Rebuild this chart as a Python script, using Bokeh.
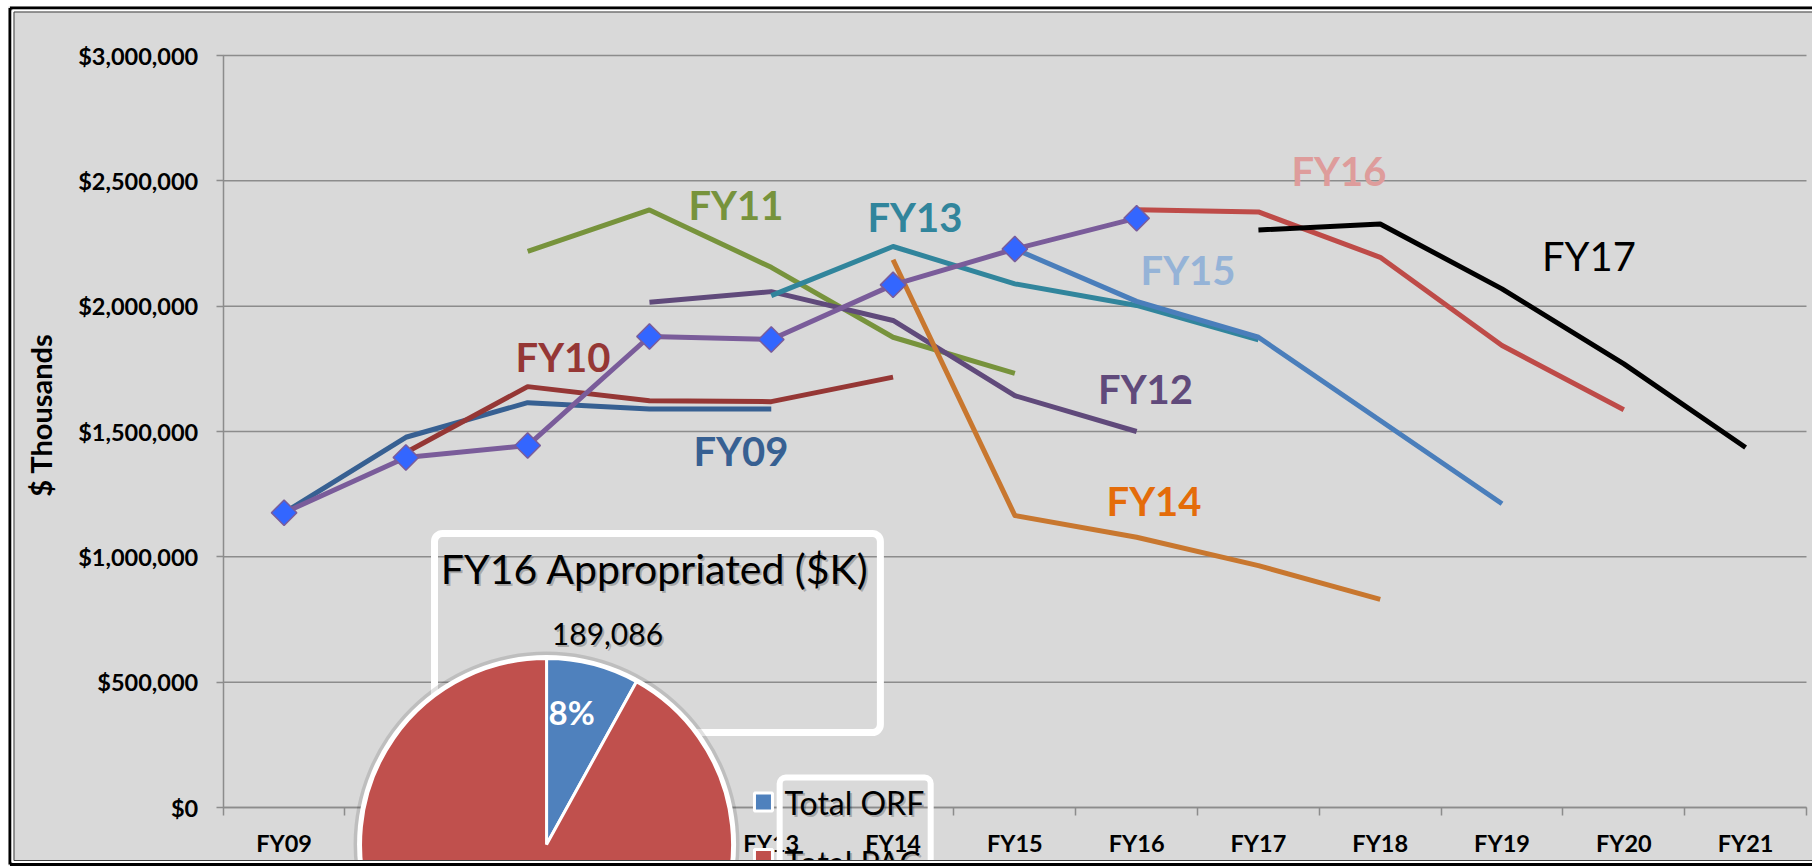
import math
from bokeh.plotting import figure
from bokeh.models import Range1d, FixedTicker, NumeralTickFormatter, BoxAnnotation, ColumnDataSource
from bokeh.core.properties import value
from bokeh.embed import file_html
from bokeh.resources import INLINE

# ---------------- data ----------------
categories = ["FY09", "FY10", "FY11", "FY12", "FY13", "FY14", "FY15",
              "FY16", "FY17", "FY18", "FY19", "FY20", "FY21"]
y_ticks = [0, 500000, 1000000, 1500000, 2000000, 2500000, 3000000]

# each budget-year profile: first fiscal year it covers + its values ($K)
fy09_start, fy09 = "FY09", [1176000, 1477000, 1615000, 1590000, 1590000]
fy10_start, fy10 = "FY10", [1416000, 1679000, 1623000, 1619000, 1717000]
fy11_start, fy11 = "FY11", [2219000, 2384000, 2155000, 1876000, 1732000]
fy12_start, fy12 = "FY12", [2016000, 2058000, 1943000, 1643000, 1500000]
fy13_start, fy13 = "FY13", [2042000, 2238000, 2089000, 2003000, 1866000]
fy14_start, fy14 = "FY14", [2185000, 1165000, 1078000, 965000, 830000]
fy15_start, fy15 = "FY15", [2228000, 2019000, 1876000, 1544000, 1212000]
fy16_start, fy16 = "FY16", [2385000, 2376000, 2195000, 1843000, 1587000]
fy17_start, fy17 = "FY17", [2304000, 2328000, 2069000, 1770000, 1436000]
enacted_start, enacted = "FY09", [1176000, 1396000, 1444000, 1879000, 1867000, 2085000, 2228000, 2351000]

# FY16 appropriated pie ($K)
pie_names = ["Total ORF", "Total PAC"]
pie_values = [189086, 2166000]

series_names = ["FY09", "FY10", "FY11", "FY12", "FY13", "FY14", "FY15", "FY16", "FY17"]
series_data = [(fy09_start, fy09), (fy10_start, fy10), (fy11_start, fy11), (fy12_start, fy12),
               (fy13_start, fy13), (fy14_start, fy14), (fy15_start, fy15), (fy16_start, fy16),
               (fy17_start, fy17)]

# ---------------- styles / layout ----------------
line_colors = {"FY09": "#376092", "FY10": "#953735", "FY11": "#77933C", "FY12": "#604A7B",
               "FY13": "#31859C", "FY14": "#C8772F", "FY15": "#4A7EBB", "FY16": "#BE4B48",
               "FY17": "#000000"}
label_colors = {"FY09": "#376092", "FY10": "#953735", "FY11": "#77933C", "FY12": "#604A7B",
                "FY13": "#31859C", "FY14": "#E46C0A", "FY15": "#95B3D7", "FY16": "#DE9C9B",
                "FY17": "#000000"}
# label anchors (category position, $K) - left / baseline
label_pos = {"FY09": (3.361, 1371200), "FY10": (1.900, 1743400), "FY11": (3.320, 2349800),
             "FY12": (6.683, 1615700), "FY13": (4.790, 2301900), "FY14": (6.753, 1168900),
             "FY15": (7.032, 2091700), "FY16": (8.271, 2485500), "FY17": (10.328, 2146400)}

W, H = 1812, 868
BG = "#D9D9D9"
GRID = "#8C8C8C"
FONT = value("Lato")
LABEL_PX = 40

# plotting area covers the whole canvas; the axes are pinned inside it
X0, X1 = -2.3285, 12.5493
Y0, Y1 = -243351, 3219415
ppx = W / (X1 - X0)      # pixels per category unit
ppy = H / (Y1 - Y0)      # pixels per $K

def fx(px):
    return X0 + px / ppx

def fy(py):
    return Y1 - py / ppy

def base(y, size_px):
    # visual baseline correction for text glyphs
    return y + 0.33 * size_px / ppy

idx = {c: i for i, c in enumerate(categories)}

p = figure(width=W, height=H, output_backend="svg", toolbar_location=None,
           x_range=Range1d(X0, X1), y_range=Range1d(Y0, Y1),
           min_border=0, min_border_left=0, min_border_right=0,
           min_border_top=0, min_border_bottom=0,
           background_fill_color=BG, border_fill_color=BG, outline_line_color=None)

p.xgrid.visible = False
p.ygrid.visible = False

cat_lo, cat_hi = -0.5, len(categories) - 0.5

# horizontal gridlines from the value ticks
p.segment(x0=cat_lo, x1=cat_hi, y0=y_ticks, y1=y_ticks, line_color=GRID, line_width=1.5)

xa = p.xaxis[0]
xa.ticker = FixedTicker(ticks=list(range(len(categories))),
                        minor_ticks=[i - 0.5 for i in range(len(categories) + 1)])
xa.major_label_overrides = {i: c for i, c in enumerate(categories)}
xa.fixed_location = 0
xa.bounds = (cat_lo, cat_hi)
xa.axis_line_color = GRID
xa.axis_line_width = 1.5
xa.major_tick_out = 0
xa.major_tick_in = 0
xa.minor_tick_out = 8
xa.minor_tick_in = 0
xa.minor_tick_line_color = GRID
xa.minor_tick_line_width = 1.5
xa.major_label_standoff = 13
xa.major_label_text_font = "Lato"
xa.major_label_text_font_style = "bold"
xa.major_label_text_font_size = "23.5px"
xa.major_label_text_color = "black"

ya = p.yaxis[0]
ya.ticker = FixedTicker(ticks=y_ticks)
ya.formatter = NumeralTickFormatter(format="$0,0")
ya.fixed_location = cat_lo
ya.bounds = (0, 3000000)
ya.axis_line_color = GRID
ya.axis_line_width = 1.5
ya.major_tick_out = 7
ya.major_tick_in = 0
ya.major_tick_line_color = GRID
ya.major_tick_line_width = 1.5
ya.minor_tick_line_color = None
ya.major_label_standoff = 18
ya.major_label_text_font = "Lato"
ya.major_label_text_font_style = "bold"
ya.major_label_text_font_size = "23.5px"
ya.major_label_text_color = "black"

# y-axis title
p.text(x=[fx(40)], y=[fy(414.5)], text=["$ Thousands"], angle=math.pi / 2,
       text_font=FONT, text_font_style="bold", text_font_size="29px", text_color="black",
       text_align="center", text_baseline="middle")

# ---------------- lines ----------------
for name, (start, vals) in zip(series_names, series_data):
    xs = [idx[start] + k for k in range(len(vals))]
    p.line(xs, vals, line_color=line_colors[name], line_width=5, line_join="round")

ex = [idx[enacted_start] + k for k in range(len(enacted))]
p.line(ex, enacted, line_color="#7A5C9A", line_width=5, line_join="round")
p.scatter(ex, enacted, marker="square", angle=math.pi / 4, size=18,
          fill_color="#3366FF", line_color="#7A5C9A", line_width=1.5)

# ---------------- series labels ----------------
bold_names = [n for n in series_names if n != "FY17"]
src_b = ColumnDataSource(dict(x=[label_pos[n][0] for n in bold_names],
                              y=[base(label_pos[n][1], LABEL_PX) for n in bold_names],
                              t=bold_names, c=[label_colors[n] for n in bold_names]))
p.text(x="x", y="y", text="t", text_color="c", source=src_b, text_font=FONT,
       text_font_style="bold", text_font_size=f"{LABEL_PX}px", text_align="left",
       text_baseline="alphabetic")
p.text(x=[label_pos["FY17"][0]], y=[base(label_pos["FY17"][1], LABEL_PX)], text=["FY17"],
       text_color=label_colors["FY17"], text_font=FONT, text_font_size=f"{LABEL_PX}px",
       text_align="left", text_baseline="alphabetic")

# ---------------- inset pie (FY16 appropriated) ----------------
p.add_layout(BoxAnnotation(left=1.235, right=4.896, top=1093100, bottom=299200,
                           fill_alpha=0, line_color="white", line_alpha=1, line_width=7,
                           border_radius=8))
p.add_layout(BoxAnnotation(left=4.069, right=5.309, top=119700, bottom=-400000,
                           fill_alpha=0, line_color="white", line_alpha=1, line_width=6,
                           border_radius=6))

pie_cx, pie_cy, pie_r = 2.155, -147600, 186
total = sum(pie_values)
starts, ends, acc = [], [], 0.0
for v in pie_values:
    starts.append(math.pi / 2 - 2 * math.pi * acc / total)
    acc += v
    ends.append(math.pi / 2 - 2 * math.pi * acc / total)
pie_colors = ["#4F81BD", "#C0504D"]

p.circle(x=[pie_cx], y=[pie_cy], radius=pie_r + 7, radius_units="screen",
         fill_color="black", fill_alpha=0.12, line_color=None, level="overlay")
p.circle(x=[pie_cx], y=[pie_cy], radius=pie_r + 3.5, radius_units="screen",
         fill_color="white", line_color=None, level="overlay")
p.wedge(x=[pie_cx] * 2, y=[pie_cy] * 2, radius=pie_r, radius_units="screen",
        start_angle=starts, end_angle=ends, direction="clock",
        fill_color=pie_colors, line_color="white", line_width=3, level="overlay")

pct = f"{round(100 * pie_values[0] / total)}%"
p.text(x=[2.171], y=[base(339100, 33)], text=[pct], text_color="white", text_font=FONT,
       text_font_style="bold", text_font_size="33px", text_align="left",
       text_baseline="alphabetic", level="overlay")

def shadow_text(x, y, t, size, align="left"):
    yy = base(y, size)
    p.text(x=[x], y=[yy], text=[t], text_color="black", text_alpha=0.22, text_font=FONT,
           text_font_size=f"{size}px", text_align=align, text_baseline="alphabetic",
           x_offset=2, y_offset=2, level="overlay")
    p.text(x=[x], y=[yy], text=[t], text_color="black", text_font=FONT,
           text_font_size=f"{size}px", text_align=align, text_baseline="alphabetic",
           level="overlay")

shadow_text(3.045, 897600, "FY16 Appropriated ($K)", 41, "center")
shadow_text(2.655, 654300, f"{pie_values[0]:,}", 30, "center")

# legend of the inset pie
p.scatter(x=[3.936, 3.936], y=[21900, -203500], marker="square", size=18,
          fill_color=pie_colors, line_color="white", line_width=3, level="overlay")
shadow_text(4.109, -23900, pie_names[0], 32)
shadow_text(4.109, -263300, pie_names[1], 32)

# ---------------- outer double frame ----------------
# white page margin outside the frame
p.quad(left=[fx(-5), fx(-5), fx(-5)], right=[fx(8), fx(W + 5), fx(W + 5)],
       top=[fy(-5), fy(-5), fy(865)], bottom=[fy(H + 5), fy(6), fy(H + 5)],
       fill_color="white", line_color=None, level="overlay")
def frame_lines(px, py, pb, color, lw):
    p.segment(x0=[fx(px), fx(px), fx(px)], y0=[fy(py), fy(py), fy(pb)],
              x1=[fx(px), fx(W + 5), fx(W + 5)], y1=[fy(pb), fy(py), fy(pb)],
              line_color=color, line_width=lw, level="overlay")

frame_lines(9.5, 7.5, 864, "black", 3)
frame_lines(12, 10, 861.5, "white", 2)
frame_lines(13.5, 11.5, 860, "#404040", 1)

open("out.html", "w").write(file_html(p, INLINE))
